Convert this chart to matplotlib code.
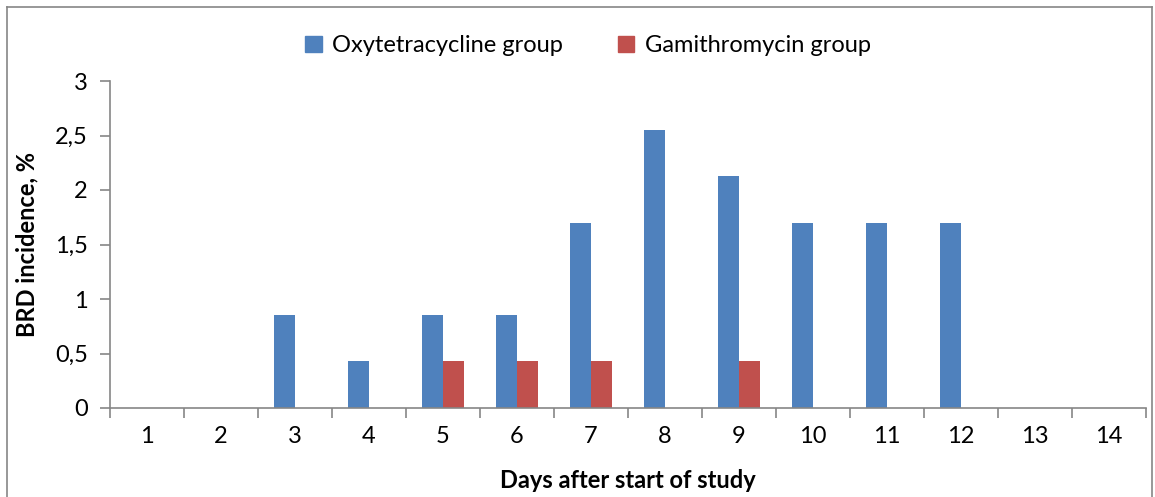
import matplotlib.pyplot as plt
from matplotlib.lines import Line2D
from matplotlib.patches import Patch
import numpy as np

plt.rcParams['font.family'] = ['Lato', 'DejaVu Sans']

days = [str(d) for d in range(1, 15)]
oxy = [0, 0, 0.85, 0.43, 0.85, 0.85, 1.70, 2.55, 2.13, 1.70, 1.70, 1.70, 0, 0]
gami = [0, 0, 0, 0, 0.43, 0.43, 0.43, 0, 0.43, 0, 0, 0, 0, 0]
yticks = [0, 0.5, 1, 1.5, 2, 2.5, 3]
ytick_labels = ["0", "0,5", "1", "1,5", "2", "2,5", "3"]

blue = "#4F81BD"
red = "#C0504D"
grey = "#868686"

fig = plt.figure(figsize=(11.55, 4.97), dpi=100)
ax = fig.add_axes([110 / 1155, 1 - 408 / 497, 1036 / 1155, 327 / 497])

x = np.arange(len(days))
w = 1 / 3.5
ax.bar(x - w / 2, oxy, width=w, color=blue, label="Oxytetracycline group", zorder=2)
ax.bar(x + w / 2, gami, width=w, color=red, label="Gamithromycin group", zorder=2)

ax.set_xlim(-0.5, len(days) - 0.5)
ax.set_ylim(0, 3)
ax.set_yticks(yticks)
ax.set_yticklabels(ytick_labels, fontsize=17)
ax.set_xticks(x)
ax.set_xticklabels(days, fontsize=17)
ax.set_xticks(np.arange(-0.5, len(days)), minor=True)
ax.tick_params(axis="x", which="major", length=0, pad=13)
ax.tick_params(axis="x", which="minor", length=7, color=grey, width=1.2, direction="out")
ax.tick_params(axis="y", length=7, color=grey, width=1.2, pad=9)

for s in ["top", "right"]:
    ax.spines[s].set_visible(False)
for s in ["left", "bottom"]:
    ax.spines[s].set_color(grey)
    ax.spines[s].set_linewidth(1.2)

ax.set_ylabel("BRD incidence, %", fontsize=17, fontweight="bold", labelpad=12)
ax.set_xlabel("Days after start of study", fontsize=17, fontweight="bold", labelpad=16)

handles = [Patch(color=blue), Patch(color=red)]
fig.legend(handles, ["Oxytetracycline group", "Gamithromycin group"],
           loc="center", bbox_to_anchor=(588 / 1155, 1 - 46 / 497), ncol=2,
           frameon=False, fontsize=17, handlelength=0.7, handleheight=0.7,
           columnspacing=2.3, handletextpad=0.45)

# outer chart border (bottom edge is cropped out)
fig.add_artist(Line2D([7 / 1155, 7 / 1155], [0, 1 - 7 / 497], transform=fig.transFigure, color=grey, lw=1.2))
fig.add_artist(Line2D([7 / 1155, 1152 / 1155], [1 - 7 / 497, 1 - 7 / 497], transform=fig.transFigure, color=grey, lw=1.2))
fig.add_artist(Line2D([1152 / 1155, 1152 / 1155], [0, 1 - 7 / 497], transform=fig.transFigure, color=grey, lw=1.2))

fig.savefig("out.png", dpi=100)
